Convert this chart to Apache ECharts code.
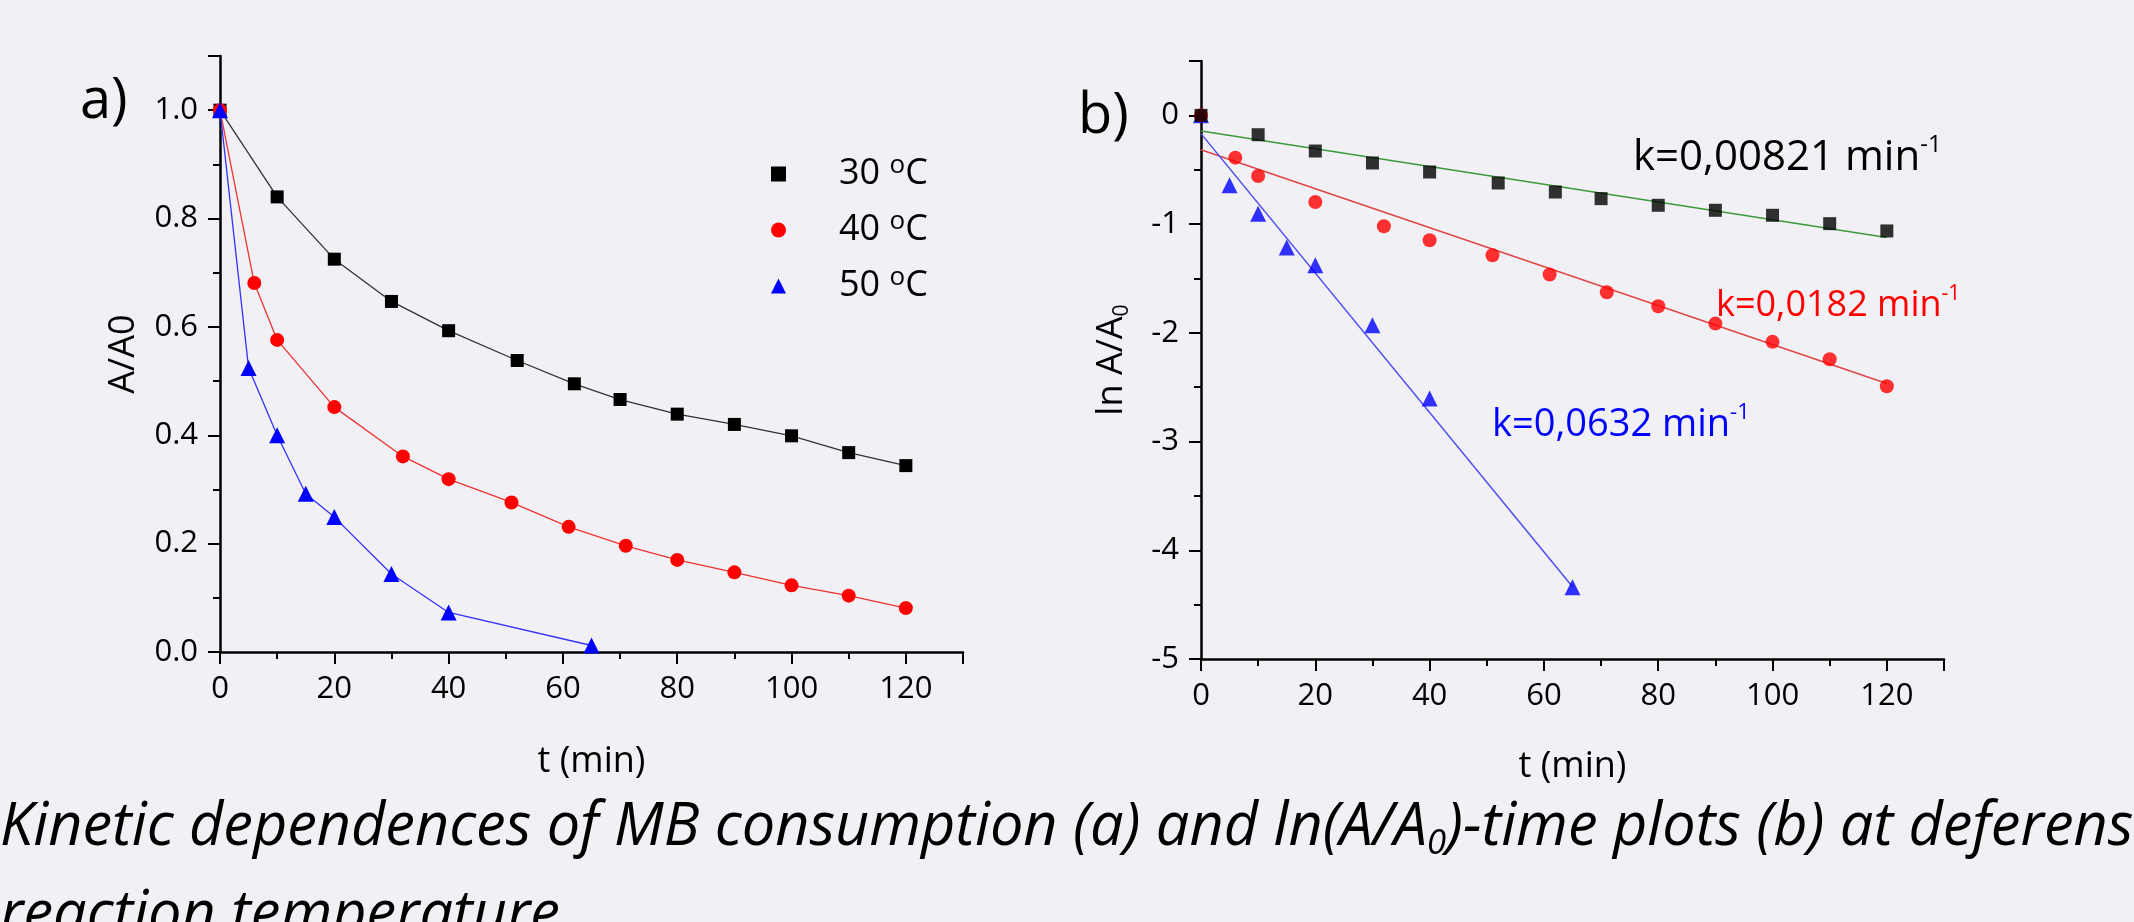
<!DOCTYPE html>
<html>
<head>
<meta charset="utf-8">
<script src="https://cdn.jsdelivr.net/npm/echarts@6/dist/echarts.min.js"></script>
<style>
  html, body { margin: 0; padding: 0; background: #f1f0f5; }
  #main { width: 2134px; height: 922px; }
</style>
</head>
<body>
<div id="main"></div>
<script>
// a) A/A0 vs time
var t30 = [0, 10, 20, 30, 40, 52, 62, 70, 80, 90, 100, 110, 120];
var a30 = [1.0, 0.84, 0.725, 0.647, 0.593, 0.538, 0.495, 0.466, 0.439, 0.42, 0.399, 0.368, 0.344];
var t40 = [0, 6, 10, 20, 32, 40, 51, 61, 71, 80, 90, 100, 110, 120];
var a40 = [1.0, 0.681, 0.576, 0.452, 0.361, 0.319, 0.276, 0.231, 0.196, 0.17, 0.147, 0.123, 0.104, 0.081];
var t50 = [0, 5, 10, 15, 20, 30, 40, 65];
var a50 = [1.0, 0.524, 0.40, 0.292, 0.249, 0.144, 0.073, 0.012];

// b) ln(A/A0) vs time
var ln30 = [0, -0.178, -0.328, -0.438, -0.521, -0.622, -0.705, -0.766, -0.827, -0.873, -0.919, -0.996, -1.063];
var ln40 = [0, -0.389, -0.558, -0.797, -1.02, -1.149, -1.287, -1.464, -1.627, -1.755, -1.915, -2.083, -2.243, -2.491];
var ln50 = [0, -0.643, -0.904, -1.216, -1.379, -1.93, -2.604, -4.341];

// linear fits, end points
var fitT30 = [0, 120], fitY30 = [-0.144, -1.124];
var fitT40 = [0, 120], fitY40 = [-0.316, -2.466];
var fitT50 = [0, 65],  fitY50 = [-0.168, -4.335];

var temps = ['30', '40', '50'];
var kLabels = ['0,00821', '0,0182', '0,0632'];

function pairs(xs, ys) {
  return xs.map(function (x, i) { return [x, ys[i]]; });
}

var FONT = '"Open Sans", "DejaVu Sans", sans-serif';

function xAxisCfg(grid) {
  return {
    type: 'value', gridIndex: grid, min: 0, max: 130, interval: 20,
    name: 't (min)', nameLocation: 'middle', nameGap: grid === 0 ? 92 : 90,
    nameTextStyle: { fontSize: 36, fontFamily: FONT, color: '#000' },
    axisLine: { onZero: false, lineStyle: { color: '#000', width: 2.5 } },
    axisTick: { inside: false, length: 12, lineStyle: { color: '#000', width: 2 } },
    minorTick: { show: true, splitNumber: 2, length: 7, lineStyle: { color: '#000', width: 2 } },
    axisLabel: {
      margin: 22, fontSize: 31, fontFamily: FONT, color: '#000',
      formatter: function (v) { return v % 20 === 0 ? String(v) : ''; }
    },
    splitLine: { show: false }
  };
}

function kText(k, size, color) {
  return {
    text: '{m|k=' + k + ' min}{s|-1}', verticalAlign: 'middle',
    rich: {
      m: { fontSize: size, fontFamily: FONT, fill: color, lineHeight: size + 8 },
      s: { fontSize: Math.round(size * 0.58), fontFamily: FONT, fill: color, verticalAlign: 'top' }
    }
  };
}

var chart = echarts.init(document.getElementById('main'));
chart.setOption({
  backgroundColor: '#f1f0f5',
  animation: false,
  grid: [
    { left: 220, top: 56, width: 743, height: 596 },
    { left: 1201, top: 61, width: 743, height: 598 }
  ],
  xAxis: [xAxisCfg(0), xAxisCfg(1)],
  yAxis: [
    {
      type: 'value', gridIndex: 0, min: 0, max: 1.1, interval: 0.2,
      name: 'A/A0', nameLocation: 'middle', nameGap: 78,
      nameTextStyle: { fontSize: 36, fontFamily: FONT, color: '#000' },
      axisLine: { show: true, onZero: false, lineStyle: { color: '#000', width: 2.5 } },
      axisTick: { show: true, inside: false, length: 12, lineStyle: { color: '#000', width: 2 } },
      minorTick: { show: true, splitNumber: 2, length: 7, lineStyle: { color: '#000', width: 2 } },
      axisLabel: {
        margin: 22, fontSize: 31, fontFamily: FONT, color: '#000',
        formatter: function (v) {
          return Math.abs(v * 5 - Math.round(v * 5)) < 1e-6 ? v.toFixed(1) : '';
        }
      },
      splitLine: { show: false }
    },
    {
      type: 'value', gridIndex: 1, min: -5, max: 0.5, interval: 1,
      name: '{n|ln A/A}{s|0}', nameLocation: 'middle', nameGap: 68,
      nameTextStyle: {
        fontSize: 36, fontFamily: FONT, color: '#000',
        rich: {
          n: { fontSize: 36, fontFamily: FONT, color: '#000', lineHeight: 42 },
          s: { fontSize: 21, fontFamily: FONT, color: '#000', verticalAlign: 'bottom' }
        }
      },
      axisLine: { show: true, onZero: false, lineStyle: { color: '#000', width: 2.5 } },
      axisTick: { show: true, inside: false, length: 12, lineStyle: { color: '#000', width: 2 } },
      minorTick: { show: true, splitNumber: 2, length: 7, lineStyle: { color: '#000', width: 2 } },
      axisLabel: {
        margin: 22, fontSize: 31, fontFamily: FONT, color: '#000',
        formatter: function (v) { return Number.isInteger(v) ? String(v) : ''; }
      },
      splitLine: { show: false }
    }
  ],
  legend: {
    left: 766, top: 148, orient: 'vertical', itemGap: 17,
    itemWidth: 15, itemHeight: 15,
    data: [
      { name: temps[0], icon: 'rect' },
      { name: temps[1], icon: 'circle' },
      { name: temps[2], icon: 'triangle' }
    ],
    formatter: function (name) { return '{g|}{n|' + name + ' }{s|o}{n|C}'; },
    textStyle: {
      fontSize: 36, fontFamily: FONT, color: '#000',
      rich: {
        g: { width: 48 },
        n: { fontSize: 36, fontFamily: FONT, color: '#000', lineHeight: 42 },
        s: { fontSize: 26, fontFamily: FONT, color: '#000', verticalAlign: 'top', lineHeight: 8 }
      }
    }
  },
  series: [
    {
      name: temps[0], type: 'line', xAxisIndex: 0, yAxisIndex: 0,
      data: pairs(t30, a30), symbol: 'rect', symbolSize: 13,
      itemStyle: { color: '#000' }, lineStyle: { color: '#333', width: 1.3 }, z: 2
    },
    {
      name: temps[1], type: 'line', xAxisIndex: 0, yAxisIndex: 0,
      data: pairs(t40, a40), symbol: 'circle', symbolSize: 14,
      itemStyle: { color: '#ff0000' }, lineStyle: { color: '#e33', width: 1.3 }, z: 3
    },
    {
      name: temps[2], type: 'line', xAxisIndex: 0, yAxisIndex: 0,
      data: pairs(t50, a50), symbol: 'triangle', symbolSize: 16,
      itemStyle: { color: '#0000ff' }, lineStyle: { color: '#33f', width: 1.3 }, z: 4
    },
    // b) fits
    {
      type: 'line', xAxisIndex: 1, yAxisIndex: 1, data: pairs(fitT30, fitY30),
      showSymbol: false, lineStyle: { color: '#3c9a3c', width: 1.5 }, z: 1
    },
    {
      type: 'line', xAxisIndex: 1, yAxisIndex: 1, data: pairs(fitT40, fitY40),
      showSymbol: false, lineStyle: { color: '#e04545', width: 1.5 }, z: 1
    },
    {
      type: 'line', xAxisIndex: 1, yAxisIndex: 1, data: pairs(fitT50, fitY50),
      showSymbol: false, lineStyle: { color: '#4d4df0', width: 1.5 }, z: 1
    },
    // b) points
    {
      type: 'scatter', xAxisIndex: 1, yAxisIndex: 1, data: pairs(t50, ln50),
      symbol: 'triangle', symbolSize: 16, itemStyle: { color: '#0000ff' }, z: 2
    },
    {
      type: 'scatter', xAxisIndex: 1, yAxisIndex: 1, data: pairs(t40, ln40),
      symbol: 'circle', symbolSize: 14, itemStyle: { color: '#ff0000' }, z: 3
    },
    {
      type: 'scatter', xAxisIndex: 1, yAxisIndex: 1, data: pairs(t30, ln30),
      symbol: 'rect', symbolSize: 13, itemStyle: { color: '#000' }, z: 4
    }
  ],
  graphic: [
    { type: 'text', x: 80, y: 102, style: { text: 'a)', fontSize: 56, fontFamily: FONT, fill: '#000', verticalAlign: 'middle' } },
    { type: 'text', x: 1078, y: 117, style: { text: 'b)', fontSize: 56, fontFamily: FONT, fill: '#000', verticalAlign: 'middle' } },
    { type: 'text', x: 1633, y: 158, style: kText(kLabels[0], 42, '#000') },
    { type: 'text', x: 1716, y: 306, style: kText(kLabels[1], 36, '#ff0000') },
    { type: 'text', x: 1492, y: 425, style: kText(kLabels[2], 38, '#0000ff') },
    {
      type: 'text', x: 0, y: 828, scaleX: 0.99,
      style: {
        text: '{c|Kinetic dependences of MB consumption (a) and ln(A/A}{d|0}{c|)-time plots (b) at deferens}',
        verticalAlign: 'middle',
        rich: {
          c: { fontSize: 60, fontFamily: FONT, fontStyle: 'italic', fill: '#000', lineHeight: 68 },
          d: { fontSize: 35, fontFamily: FONT, fontStyle: 'italic', fill: '#000', verticalAlign: 'bottom' }
        }
      }
    },
    {
      type: 'text', x: 0, y: 916, scaleX: 0.99,
      style: { text: 'reaction temperature', fontSize: 60, fontFamily: FONT, fontStyle: 'italic', fill: '#000', verticalAlign: 'middle' }
    }
  ]
});
</script>
</body>
</html>
